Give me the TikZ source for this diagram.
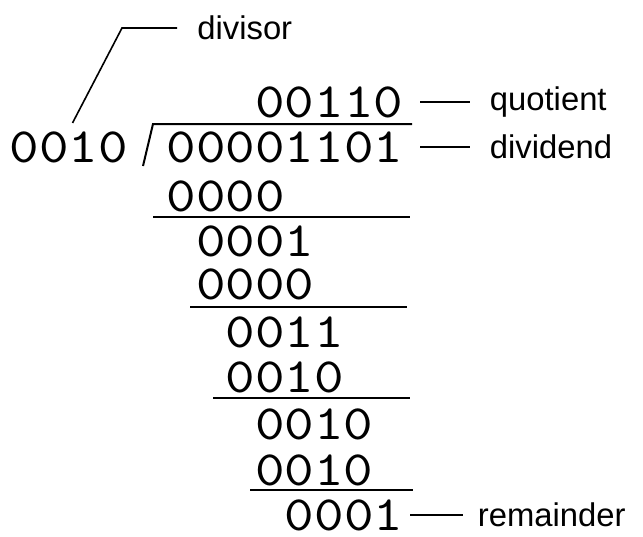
\documentclass[tikz,border=0pt]{standalone}
\usepackage{fontspec}
\setsansfont{Liberation Sans}
\newfontfamily\divmono[Extension=.otf, FakeStretch=1.14]{lmmono10-regular}
\usepackage{tikz}
\usetikzlibrary{positioning}

% typewriter digits for the long division, sans for the tags
\newcommand\divfont{\divmono\fontsize{24.67}{28}\selectfont}
\newcommand\tagfont{\sffamily\fontsize{16.4}{20}\selectfont}

\begin{document}
\begin{tikzpicture}[
  x=0.5pt, y=-0.5pt,
  digits/.style={inner sep=0pt, anchor=base east, font=\divfont},
  tag/.style={inner sep=0pt, font=\tagfont},
  rule/.style={line width=1pt},
  lead/.style={line width=1.2pt},
  thinlead/.style={line width=0.8pt}
]
\useasboundingbox (0,0) rectangle (643,536);

\node[digits] (dvs)   at (128,162)   {0010};
\node[digits] (quot)  at (403.5,117) {00110};
\node[digits] (dvd)   at (403.5,162) {00001101};
\node[digits] (sub1)  at (285,211)   {0000};
\node[digits] (part1) at (314.6,256) {0001};
\node[digits] (sub2)  at (314.6,299) {0000};
\node[digits] (part2) at (344.2,347) {0011};
\node[digits] (sub3)  at (344.2,392) {0010};
\node[digits] (part3) at (373.8,439) {0010};
\node[digits] (sub4)  at (373.8,485) {0010};
\node[digits] (rem)   at (403.5,530) {0001};

\node[tag, right=43pt of quot] (lquot) {quotient};
\node[tag, right=43pt of dvd]  (ldvd)  {dividend};
\node[tag, right=37pt of rem]  (lrem)  {remainder};
\node[tag, anchor=west] (ldvs) at (197,28) {divisor};
\coordinate (kink) at (122,28);

% division bracket and subtraction rules
\draw[rule] (143,166) -- (153,124) -- (412,124);
\draw[rule] (153,217) -- (410,217);
\draw[rule] (190,307) -- (407,307);
\draw[rule] (213,398) -- (410,398);
\draw[rule] (250,490) -- (413,490);

\draw[lead, shorten <=8.25pt, shorten >=10pt] (quot) -- (lquot);
\draw[lead, shorten <=8.25pt, shorten >=10pt] (dvd)  -- (ldvd);
\draw[lead, shorten <=3.25pt, shorten >=7.25pt] (rem) -- (lrem);
\draw[thinlead] ([xshift=2pt, yshift=4pt]dvs.north) -- (kink) -- ([xshift=-10pt]ldvs.west);
\end{tikzpicture}
\end{document}
